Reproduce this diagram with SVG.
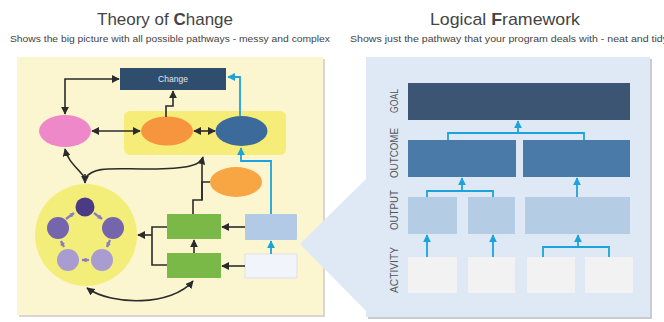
<svg xmlns="http://www.w3.org/2000/svg" width="664" height="322" viewBox="0 0 664 322">
<defs>
<style>
.title{font-family:"Liberation Sans",Arial,sans-serif;font-size:17px;fill:#444}
.sub{font-family:"Liberation Sans",Arial,sans-serif;font-size:9px;fill:#444}
.lbl{font-family:"Liberation Sans",Arial,sans-serif;font-size:10px;fill:#555}
.blk{fill:none;stroke:#2b2b2b;stroke-width:1.6}
.cy{fill:none;stroke:#1ba3dc;stroke-width:1.8}
.pu{fill:none;stroke:#8a7cc0;stroke-width:2.2}
</style>
<marker id="ab" viewBox="0 0 10 10" refX="9" refY="5" markerWidth="8" markerHeight="8" markerUnits="userSpaceOnUse" orient="auto-start-reverse"><path d="M0,0 L10,5 L0,10 z" fill="#2b2b2b"/></marker>
<marker id="ac" viewBox="0 0 10 10" refX="9" refY="5" markerWidth="8" markerHeight="8" markerUnits="userSpaceOnUse" orient="auto-start-reverse"><path d="M0,0 L10,5 L0,10 z" fill="#1ba3dc"/></marker>
<marker id="ap" viewBox="0 0 10 10" refX="9" refY="5" markerWidth="5" markerHeight="5" markerUnits="userSpaceOnUse" orient="auto"><path d="M0,0 L10,5 L0,10 z" fill="#8a7cc0"/></marker>
</defs>
<rect width="664" height="322" fill="#ffffff"/>

<!-- titles -->
<text class="title" x="165" y="25" text-anchor="middle" textLength="136" lengthAdjust="spacingAndGlyphs">Theory of <tspan font-weight="bold">C</tspan>hange</text>
<text class="sub" x="10" y="42" textLength="320" lengthAdjust="spacingAndGlyphs">Shows the big picture with all possible pathways - messy and complex</text>
<text class="title" x="505" y="25" text-anchor="middle" textLength="150" lengthAdjust="spacingAndGlyphs">Logical <tspan font-weight="bold">F</tspan>ramework</text>
<text class="sub" x="350" y="42" textLength="318" lengthAdjust="spacingAndGlyphs">Shows just the pathway that your program deals with - neat and tidy</text>

<!-- panels -->
<g id="toc-panel">
<rect x="19" y="59" width="306" height="258" fill="#d6d6d6"/>
<rect x="17" y="57" width="306" height="258" fill="#fbf6d0"/>
</g>
<g id="lf-panel">
<rect x="368" y="59" width="284" height="260" fill="#c8ccd2"/>
<rect x="366" y="57" width="284" height="260" fill="#dfe9f5"/>
<polygon points="367,178 300,244 367,312" fill="#dfe9f5"/>
</g>

<!-- left nodes -->
<g id="inner-group"><rect x="124" y="111" width="162" height="44" rx="6" fill="#f6ec78"/></g>
<g id="change"><rect x="120" y="68" width="106" height="22" fill="#2f4e6e"/>
<text x="173" y="82" text-anchor="middle" font-family="Liberation Sans,Arial,sans-serif" font-size="8.5" fill="#dfe6ef">Change</text></g>
<g id="pink"><ellipse cx="65" cy="131" rx="26" ry="16" fill="#ee88c8"/></g>
<g id="orange1"><ellipse cx="167" cy="131" rx="26" ry="14.5" fill="#f7953e"/></g>
<g id="blue"><ellipse cx="241.5" cy="131" rx="26" ry="15" fill="#3c6a9a"/></g>
<g id="orange2"><ellipse cx="236" cy="182" rx="26" ry="15" fill="#f8a544"/></g>
<g id="green1"><rect x="167" y="214" width="54" height="25" fill="#7ab848"/></g>
<g id="green2"><rect x="167" y="253" width="54" height="25" fill="#7ab848"/></g>
<g id="lightblue"><rect x="245" y="214" width="52" height="26" rx="1" fill="#b2cae5"/></g>
<g id="white"><rect x="245" y="254" width="52" height="24" fill="#f2f4fb" stroke="#d8dbe5" stroke-width="0.8"/></g>
<g id="cycle">
<circle cx="86" cy="235" r="51" fill="#f3ee7a"/>
<circle cx="85" cy="207" r="9.5" fill="#4b3b84"/>
<circle cx="113" cy="228" r="11" fill="#7565ad"/>
<circle cx="58" cy="228" r="11" fill="#7565ad"/>
<circle cx="102" cy="260" r="11" fill="#a99cd0"/>
<circle cx="68" cy="260" r="11" fill="#a99cd0"/>
</g>

<!-- connectors -->
<g id="connectors">
<path class="blk" d="M92,131 H140" marker-start="url(#ab)" marker-end="url(#ab)"/>
<path class="blk" d="M194,131 H215" marker-start="url(#ab)" marker-end="url(#ab)"/>
<path class="blk" d="M166,117 V106 H173 V91" marker-end="url(#ab)"/>
<path class="blk" d="M119,79 H65 V114" marker-start="url(#ab)" marker-end="url(#ab)"/>
<path class="cy" d="M240,116 V77 H228" marker-end="url(#ac)"/>
<path class="cy" d="M271,214 V161 H241 V148" marker-end="url(#ac)"/>
<path class="blk" d="M85,178 C78,168 68,162 65,149" marker-end="url(#ab)"/>
<path class="blk" d="M85,174 V183" marker-end="url(#ab)"/>
<path class="blk" d="M85,178 C95,166 110,169 150,169 C188,169 201,165 203,157" marker-end="url(#ab)"/>
<path class="blk" d="M210,182 H202 V200 H193 V214"/>
<path class="blk" d="M202,200 V158"/>
<path class="blk" d="M245,227 H222" marker-end="url(#ab)"/>
<path class="blk" d="M245,266 H222" marker-end="url(#ab)"/>
<path class="blk" d="M194,253 V240" marker-end="url(#ab)"/>
<path class="cy" d="M271,254 V241" marker-end="url(#ac)"/>
<path class="blk" d="M167,227 H152 V265 H167"/>
<path class="blk" d="M152,235 H138" marker-end="url(#ab)"/>
<path class="blk" d="M193,281 C172,306 112,306 87,288" marker-start="url(#ab)" marker-end="url(#ab)"/>
<path class="pu" d="M94,213 L102,219" marker-end="url(#ap)"/>
<path class="pu" d="M110,240 L107,247" marker-end="url(#ap)"/>
<path class="pu" d="M89,260 L82,260" marker-end="url(#ap)"/>
<path class="pu" d="M64,247 L61,241" marker-end="url(#ap)"/>
<path class="pu" d="M66,219 L74,213" marker-end="url(#ap)"/>
</g>

<!-- right: logical framework -->
<g id="goal"><rect x="408" y="83" width="222" height="37" fill="#3b5573"/></g>
<g id="outcome1"><rect x="408" y="140" width="108" height="37" fill="#4a7aa8"/></g>
<g id="outcome2"><rect x="523" y="140" width="107" height="37" fill="#4a7aa8"/></g>
<g id="output1"><rect x="408" y="197" width="49" height="37" fill="#b4cce4"/></g>
<g id="output2"><rect x="468" y="197" width="47" height="37" fill="#b4cce4"/></g>
<g id="output3"><rect x="525" y="197" width="105" height="37" fill="#b4cce4"/></g>
<g id="activity1"><rect x="408" y="257" width="49" height="36" fill="#f2f2f2"/></g>
<g id="activity2"><rect x="468" y="257" width="47" height="36" fill="#f2f2f2"/></g>
<g id="activity3"><rect x="527" y="257" width="48" height="36" fill="#f2f2f2"/></g>
<g id="activity4"><rect x="585" y="257" width="48" height="36" fill="#f2f2f2"/></g>
<g id="row-labels">
<text class="lbl" transform="translate(398,101) rotate(-90)" text-anchor="middle" textLength="24" lengthAdjust="spacingAndGlyphs">GOAL</text>
<text class="lbl" transform="translate(398,153) rotate(-90)" text-anchor="middle" textLength="50" lengthAdjust="spacingAndGlyphs">OUTCOME</text>
<text class="lbl" transform="translate(398,210) rotate(-90)" text-anchor="middle" textLength="40" lengthAdjust="spacingAndGlyphs">OUTPUT</text>
<text class="lbl" transform="translate(398,270) rotate(-90)" text-anchor="middle" textLength="46" lengthAdjust="spacingAndGlyphs">ACTIVITY</text>
</g>
<g id="lf-connectors">
<path class="cy" d="M448,140 V133 H584 V140" stroke="#1aa0c8"/>
<path class="cy" d="M518,133 V121" marker-end="url(#ac)"/>
<path class="cy" d="M427,197 V191 H493 V197"/>
<path class="cy" d="M462,191 V178" marker-end="url(#ac)"/>
<path class="cy" d="M577,197 V178" marker-end="url(#ac)"/>
<path class="cy" d="M427,257 V235" marker-end="url(#ac)"/>
<path class="cy" d="M493,257 V235" marker-end="url(#ac)"/>
<path class="cy" d="M543,257 V247 H609 V257"/>
<path class="cy" d="M578,247 V235" marker-end="url(#ac)"/>
</g>
</svg>
